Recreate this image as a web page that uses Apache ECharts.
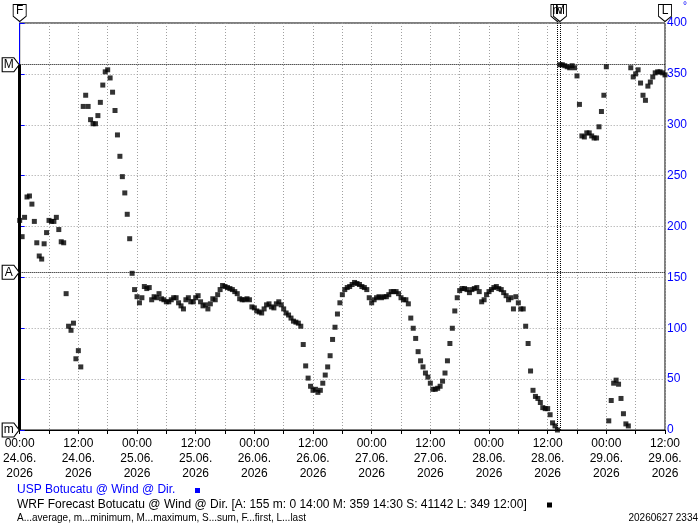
<!DOCTYPE html>
<html>
<head>
<meta charset="utf-8">
<script src="https://cdn.jsdelivr.net/npm/echarts@6/dist/echarts.min.js"></script>
<style>html,body{margin:0;padding:0;background:#fff;}#c{width:700px;height:523px;}</style>
</head>
<body>
<div id="c"></div>
<script>
// Half-hourly wind direction, 24.06.2026 00:00 .. 29.06.2026 12:00
var startUTC = Date.UTC(2026, 5, 24, 0, 0);
var stepHours = 0.5;
var wrfDir = [
  206,190,209,229,230,222,205,184,171,168,
  183,194,206,205,205,209,197,185,184,134,
  102,98,105,70,78,62,318,329,318,305,
  301,301,309,322,339,352,354,346,332,314,
  290,269,249,233,212,188,154,138,131,125,
  130,141,139,140,128,131,130,134,129,128,
  126,126,128,130,130,125,122,119,128,130,
  126,126,130,132,126,122,123,119,124,129,
  128,133,138,142,141,140,139,138,136,134,
  129,128,128,129,128,121,120,117,116,115,
  119,123,124,121,120,124,126,123,119,115,
  113,110,107,106,105,102,84,63,51,43,
  39,40,37,39,46,54,62,73,89,101,
  114,125,133,138,140,141,143,145,144,143,
  141,140,138,130,125,128,130,131,130,131,
  131,133,136,136,136,134,130,128,128,124,
  110,100,90,77,68,62,56,52,46,40,
  40,41,43,48,56,68,85,100,117,130,
  137,139,139,138,135,138,139,140,136,126,
  128,133,136,138,140,141,139,138,135,132,
  128,130,119,131,125,119,119,102,85,58,
  39,33,31,27,22,21,21,15,7,4,
  0,359,359,358,357,356,358,356,348,320,
  289,288,292,292,289,287,287,298,313,329,
  357,9,29,46,49,45,31,16,6,4,
  356,347,350,354,341,329,324,338,342,347,
  351,352,352,351,349
];
var uspDir = [];
var yTicks = [0, 50, 100, 150, 200, 250, 300, 350, 400];
var statAvg = 155, statMin = 0, statMinH = 110, statMax = 359, statMaxH = 110.5, statLastH = 132;
var legendUsp = 'USP Botucatu @ Wind @ Dir.';
var legendWrf = 'WRF Forecast Botucatu @ Wind @ Dir. [A: 155 m: 0 14:00 M: 359 14:30 S: 41142 L: 349 12:00]';
var legendNote = 'A...average, m...minimum, M...maximum, S...sum, F...first, L...last';
var stamp = '20260627 2334';

var FONT = '"Liberation Sans", Arial, sans-serif';
function pad(n){ return (n < 10 ? '0' : '') + n; }
function fmtX(v){
  if (v % 12 !== 0) return '';
  var d = new Date(startUTC + v * 3600000);
  return pad(d.getUTCHours()) + ':' + pad(d.getUTCMinutes()) + '\n' +
         pad(d.getUTCDate()) + '.' + pad(d.getUTCMonth() + 1) + '.\n' + d.getUTCFullYear();
}
var wrfData = wrfDir.map(function(v, i){ return [i * stepHours, v]; });
var downTag = 'path://M0,0L12,0L12,11L6,16L0,11Z';
var rightTag = 'path://M0,0L11,0L16,6.5L11,13L0,13Z';
function topMark(x, t){
  return {coord: [x, 400], symbol: downTag, symbolSize: [13, 17], symbolOffset: [0, -10],
          label: {formatter: t, offset: [0, -2]}};
}
function leftMark(y, t){
  return {coord: [0, y], symbol: rightTag, symbolSize: [17, 14], symbolOffset: [-9, 0],
          label: {formatter: t, offset: [-2, 0]}};
}

var chart = echarts.init(document.getElementById('c'), null, {renderer: 'canvas'});
chart.setOption({
  backgroundColor: '#ffffff',
  animation: false,
  grid: {left: 17, right: 35, top: 23, bottom: 93, show: true, borderColor: '#000', borderWidth: 1, backgroundColor: 'transparent'},
  xAxis: {
    type: 'value', min: 0, max: 132, interval: 6,
    axisLine: {show: true, lineStyle: {color: '#000', width: 1}},
    axisTick: {show: true, length: 4, lineStyle: {color: '#000'}},
    axisLabel: {formatter: fmtX, color: '#000', fontFamily: FONT, fontSize: 12, lineHeight: 15, margin: 6},
    splitLine: {show: true, lineStyle: {color: '#a0a0a0', type: [1, 2], width: 1}}
  },
  yAxis: {
    type: 'value', position: 'right', min: 0, max: 400, interval: 50,
    axisLine: {show: true, lineStyle: {color: '#0000ff', width: 1}},
    axisTick: {show: true, length: 5, lineStyle: {color: '#0000ff'}},
    axisLabel: {color: '#0000ff', fontFamily: FONT, fontSize: 12, margin: 2,
                formatter: function(v){ return yTicks.indexOf(v) >= 0 ? String(v) : ''; }},
    splitLine: {show: true, lineStyle: {color: '#a0a0a0', type: [1, 2], width: 1}}
  },
  series: [
    {name: legendUsp, type: 'scatter', data: uspDir, symbol: 'rect', symbolSize: 5, itemStyle: {color: '#0000ff'}},
    {
      name: 'WRF Forecast Botucatu @ Wind @ Dir.', type: 'scatter', data: wrfData,
      symbol: 'rect', symbolSize: 5, itemStyle: {color: '#000'}, clip: false, z: 3,
      markLine: {
        silent: true, symbol: ['none', 'none'], animation: false,
        label: {show: false},
        data: [
          [{coord: [0, statMin], lineStyle: {color: '#000', width: 3, type: 'solid'}}, {coord: [0, statMax]}],
          [{coord: [0, statMax], lineStyle: {color: '#000', width: 1, type: [1, 1]}}, {coord: [132, statMax]}],
          [{coord: [0, statAvg], lineStyle: {color: '#000', width: 1, type: [1, 1]}}, {coord: [132, statAvg]}],
          [{coord: [statMinH, 0], lineStyle: {color: '#000', width: 1, type: [1, 1]}}, {coord: [statMinH, 400]}],
          [{coord: [statMaxH, 0], lineStyle: {color: '#000', width: 1, type: [1, 1]}}, {coord: [statMaxH, 400]}]
        ]
      },
      markPoint: {
        silent: true, animation: false,
        itemStyle: {color: '#fff', borderColor: '#000', borderWidth: 1},
        label: {show: true, position: 'inside', color: '#000', fontFamily: FONT, fontSize: 12},
        data: [
          topMark(0, 'F'), topMark(statMinH, 'm'), topMark(statMaxH, 'M'), topMark(statLastH, 'L'),
          leftMark(statMax, 'M'), leftMark(statAvg, 'A'), leftMark(statMin, 'm')
        ]
      }
    }
  ],
  graphic: [
    {type: 'text', left: 683, top: 1, style: {text: '°', fill: '#0000ff', font: '10px ' + FONT}},
    {type: 'text', x: 17, y: 490, style: {text: legendUsp, fill: '#0000ff', font: '12px ' + FONT, verticalAlign: 'middle'}},
    {type: 'rect', shape: {x: 195, y: 488, width: 5, height: 5}, style: {fill: '#0000ff'}},
    {type: 'text', x: 17, y: 505, style: {text: legendWrf, fill: '#000', font: '12px ' + FONT, verticalAlign: 'middle'}},
    {type: 'rect', shape: {x: 547, y: 502.5, width: 5, height: 5}, style: {fill: '#000'}},
    {type: 'text', x: 17, y: 518, style: {text: legendNote, fill: '#000', font: '10px ' + FONT, verticalAlign: 'middle'}},
    {type: 'text', x: 698, y: 518, style: {text: stamp, fill: '#000', font: '10px ' + FONT, verticalAlign: 'middle', align: 'right'}}
  ]
});
</script>
</body>
</html>
